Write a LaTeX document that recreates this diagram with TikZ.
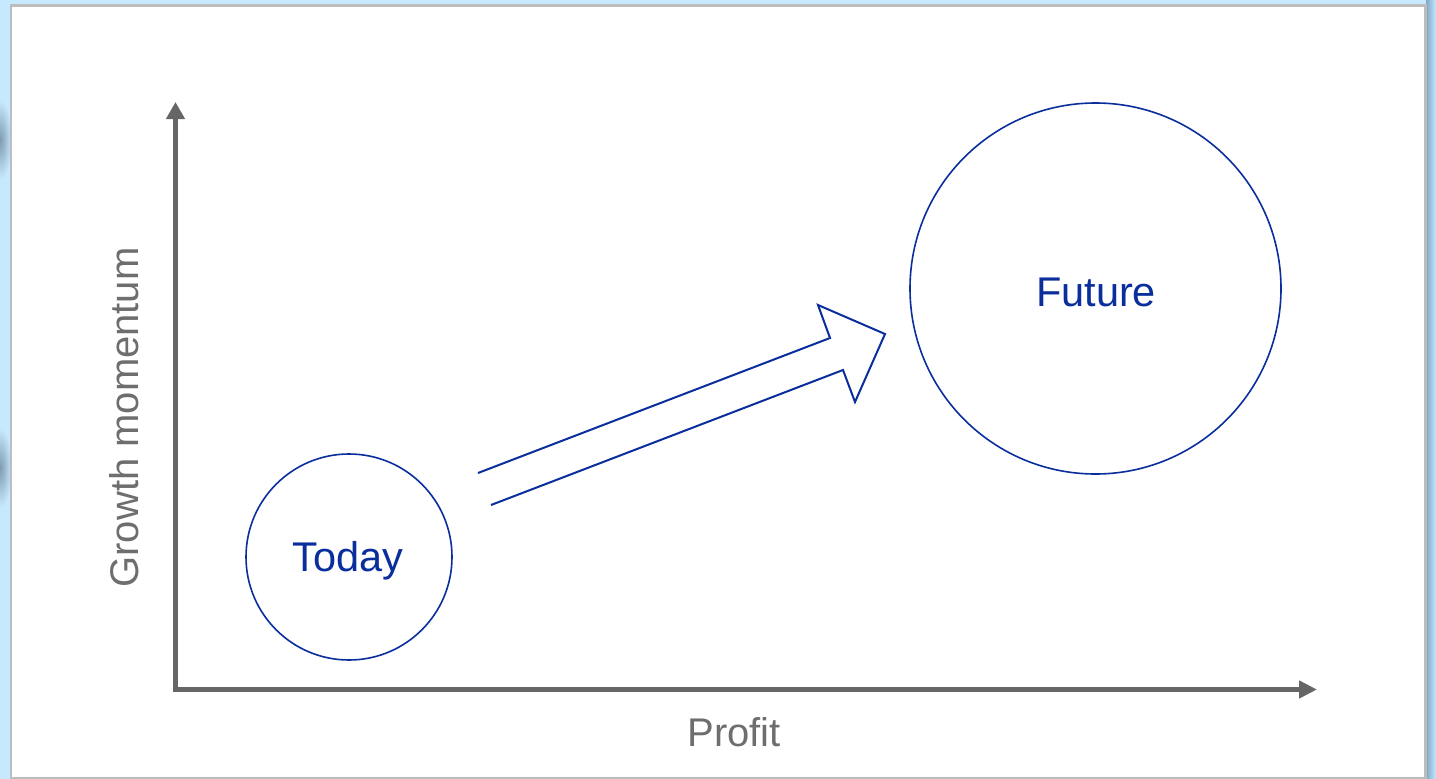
\documentclass[tikz,border=0pt]{standalone}
\usepackage{fontspec}
\setmainfont{Liberation Sans}
\usetikzlibrary{arrows.meta}
\definecolor{stripblue}{HTML}{C7E9FE}
\definecolor{stripdark}{HTML}{7FA7C4}
\definecolor{framegray}{HTML}{BDBDBD}
\definecolor{axisgray}{HTML}{666666}
\definecolor{labelgray}{HTML}{6E6E6E}
\definecolor{darkblue}{HTML}{0A2F9C}
\tikzset{
  axisline/.style={draw=axisgray, line width=5.5pt, line join=miter},
  bubble/.style={circle, draw=darkblue, line width=1.6pt, inner sep=0pt},
  bubbletext/.style={text=darkblue, font=\fontsize{41.5}{50}\selectfont, anchor=base, inner sep=0pt},
  axislabel/.style={text=labelgray, font=\fontsize{40}{48}\selectfont, anchor=base, inner sep=0pt},
  hollowarrow/.style={draw=darkblue, line width=2pt, line join=miter},
}
\begin{document}
\begin{tikzpicture}[x=1pt,y=-1pt]
\useasboundingbox (0,0) rectangle (1436,779);
% background strips
\fill[stripblue] (0,0) rectangle (1436,779);
\begin{scope}
  \clip (0,0) rectangle (9.5,779);
  \shade[inner color=stripdark!70!gray, outer color=stripblue] (0,140) ellipse (12 and 40);
  \shade[inner color=stripdark!70!gray, outer color=stripblue] (0,468) ellipse (12 and 40);
\end{scope}
\shade[left color=stripdark, right color=stripblue] (1426,0) rectangle (1436,779);
\fill[framegray] (9.5,4) rectangle (1427,779);
\fill[white] (12,6.5) rectangle (1424,776.5);
% axes
\coordinate (ytop) at (175.5,102);
\coordinate (origin) at (175.5,689.5);
\coordinate (xend) at (1317,689.5);
\draw[axisline, {Triangle[length=17pt,width=18pt]}-{Triangle[length=18pt,width=17pt]}] (ytop) -- (origin) -- (xend);
% labels
\node[axislabel, rotate=90] (ylab) at (138,417.5) {Growth momentum};
\node[axislabel] (xlab) at (734,746) {Profit};
% bubbles
\node[bubble, minimum size=206pt] (today) at (349,557) {};
\node[bubbletext] (todaytxt) at (348,571) {Today};
\node[bubble, minimum size=371pt] (future) at (1095.5,288.5) {};
\node[bubbletext] (futuretxt) at (1096,306) {Future};
% hollow arrow
\draw[hollowarrow] (478,473) -- (830,338) -- (818,305) -- (885,334) -- (855,402) -- (843,370) -- (491,505);
\end{tikzpicture}
\end{document}
